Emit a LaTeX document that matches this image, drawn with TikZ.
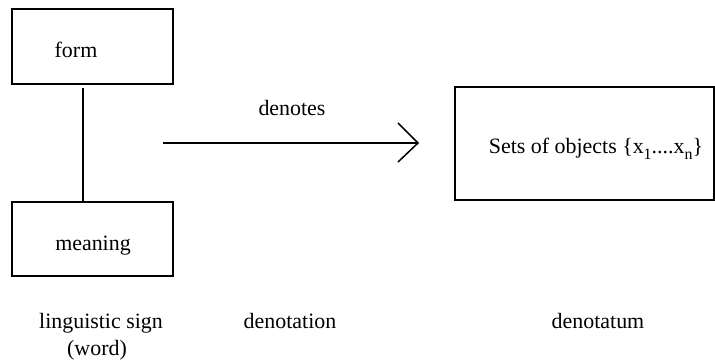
\documentclass[tikz,border=0pt]{standalone}
\usepackage{fontspec}
\setmainfont{Liberation Serif}
\newcommand{\mysub}[1]{\raisebox{-0.28em}{\fontsize{16}{16}\selectfont #1}}
\begin{document}
\begin{tikzpicture}[x=1bp,y=-1bp,
  box/.style={draw, line width=1.5bp, rectangle, inner sep=0pt},
  txt/.style={inner sep=0pt, anchor=base, font=\fontsize{22}{26}\selectfont}]
\useasboundingbox (0,0) rectangle (715,361);
\node[box, minimum width=161bp, minimum height=75bp] (form) at (92.5,46.5) {};
\node[box, minimum width=161bp, minimum height=74bp] (meaning) at (92.5,239) {};
\node[txt] (formt) at (76,57) {form};
\node[txt] (meaningt) at (93,250) {meaning};
\coordinate (ft) at ([xshift=71.5bp,yshift=-3bp]form.south west);
\draw[line width=1.5bp] (ft) -- (ft |- meaning.north);
\node[box, minimum width=259bp, minimum height=113bp] (sets) at (584.5,143.5) {};
\node[txt] (setst) at (596,153) {Sets of objects \{x\mysub{1}....x\mysub{n}\}};
\coordinate (a0) at (163,143);
\coordinate (a1) at (418,143);
\draw[line width=1.5bp] (a0) -- (a1);
\draw[line width=1.5bp] (398,123) -- (a1) -- (398,162);
\node[txt] (den) at (292,115) {denotes};
\node[txt] (ls) at (101,328) {linguistic sign};
\node[txt] (wd) at (97,355) {(word)};
\node[txt] (dn) at (290,328) {denotation};
\node[txt] (dt) at (598,328) {denotatum};
\end{tikzpicture}
\end{document}
